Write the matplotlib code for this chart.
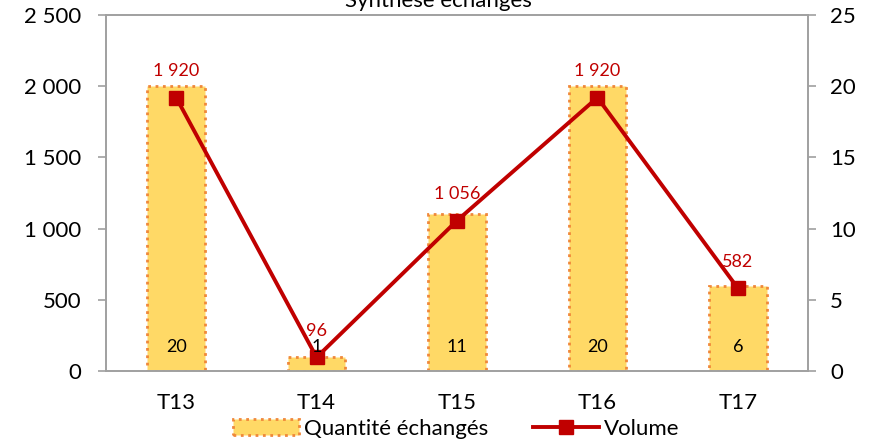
import matplotlib.pyplot as plt
import numpy as np

categories = ["T13", "T14", "T15", "T16", "T17"]
quantite = [20, 1, 11, 20, 6]
volume = [1920, 96, 1056, 1920, 582]
volume_labels = ["1 920", "96", "1 056", "1 920", "582"]

plt.rcParams['font.family'] = ['Lato', 'DejaVu Sans']

fig = plt.figure(figsize=(8.77, 4.43), dpi=100)
ax = fig.add_axes([106 / 877, 1 - 371 / 443, 702 / 877, 356 / 443])
ax2 = ax.twinx()

x = np.arange(len(categories))

# bars on the right axis
bars = ax2.bar(x, quantite, width=0.41, color="#FFD966", edgecolor="#F0883A",
               linestyle=":", linewidth=2, label="Quantité échangés", zorder=1)

ax2.set_ylim(0, 25)
ax2.set_yticks(range(0, 26, 5))

# line on the left axis, drawn above the bars
ax.set_zorder(ax2.get_zorder() + 1)
ax.patch.set_visible(False)
line, = ax.plot(x, volume, color="#C00000", linewidth=2.8, marker="s", markersize=10,
                label="Volume", zorder=3)
for xi, v, lab in zip(x, volume, volume_labels):
    ax.text(xi, v + 130, lab, ha="center", va="bottom", fontsize=13, color="#C00000")

# bar values near the bottom of each bar, on top of everything
for xi, q in zip(x, quantite):
    ax.text(xi, 1.7 * 2500 / 25, str(q), ha="center", va="center", fontsize=13,
            color="black", zorder=6)

ax.set_ylim(0, 2500)
ax.set_yticks(range(0, 2501, 500))
ax.set_yticklabels(["0", "500", "1 000", "1 500", "2 000", "2 500"])
ax.set_xlim(-0.5, len(categories) - 0.5)
ax.set_xticks(x)
ax.set_xticklabels(categories)

for a in (ax, ax2):
    for s in a.spines.values():
        s.set_color("#A0A0A0")
        s.set_linewidth(1.2)
    a.tick_params(axis="both", labelsize=16, color="#A0A0A0", length=6, width=1.2)
ax.tick_params(axis="x", length=0, pad=16)
ax.tick_params(axis="y", pad=12)
ax2.tick_params(axis="y", pad=10)

fig.text(0.5, 0.998, "Synthèse échanges", ha="center", va="center", fontsize=16)

fig.legend(handles=[bars, line], loc="lower center", bbox_to_anchor=(0.52, -0.035),
           ncol=2, frameon=False, fontsize=16, handlelength=3, columnspacing=2,
           handletextpad=0.2)

fig.savefig("out.png", dpi=100)
